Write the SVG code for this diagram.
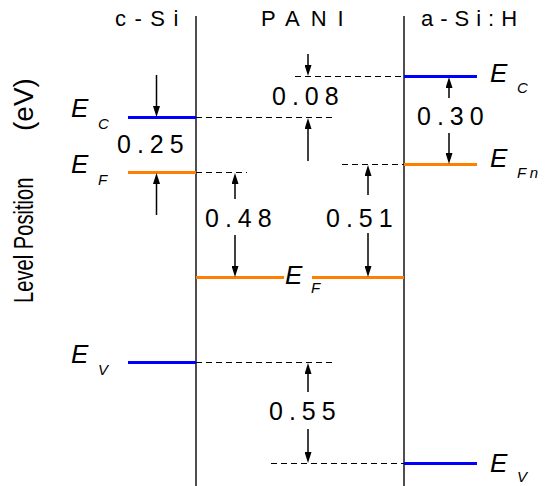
<svg xmlns="http://www.w3.org/2000/svg" width="548" height="486" viewBox="0 0 548 486">
<style>
  text { font-family: "Liberation Sans", Arial, sans-serif; fill: #000; }
  .title { font-size: 22px; }
  .num { font-size: 25px; letter-spacing: 6px; }
  .E { font-size: 26px; font-style: italic; }
  .sub { font-size: 15px; font-style: italic; }
  .wall { stroke: #222; stroke-width: 1.6; fill: none; }
  .dash { stroke: #000; stroke-width: 1.1; stroke-dasharray: 6 4; fill: none; }
  .blue { stroke: #0000ff; stroke-width: 3; fill: none; }
  .orange { stroke: #ff8000; stroke-width: 3; fill: none; }
  .arrow { stroke: #000; stroke-width: 1.5; fill: none; marker-end: url(#ah); }
</style>
<defs>
  <marker id="ah" viewBox="0 0 11 7" refX="7" refY="3.5" markerWidth="11" markerHeight="7" markerUnits="userSpaceOnUse" orient="auto">
    <path d="M0,0 L11,3.5 L0,7 z" fill="#000"/>
  </marker>
</defs>
<rect width="548" height="486" fill="#fff"/>

<g id="interfaces">
  <line class="wall" x1="196" y1="16" x2="196" y2="486"/>
  <line class="wall" x1="404" y1="16" x2="404" y2="486"/>
</g>

<g id="titles">
  <text class="title" x="115" y="26" letter-spacing="8.5">c-Si</text>
  <text class="title" x="261" y="26" letter-spacing="11">PANI</text>
  <text class="title" x="421" y="26" letter-spacing="7">a-Si:H</text>
</g>

<g id="axis-label">
  <text transform="translate(33,303) rotate(-90) scale(0.72,1)" font-size="28">Level Position</text>
  <text transform="translate(33,131) rotate(-90)" font-size="28">(eV)</text>
</g>

<g id="dashed-levels">
  <line class="dash" x1="196" y1="117.5" x2="336" y2="117.5"/>
  <line class="dash" x1="196" y1="172.5" x2="247" y2="172.5"/>
  <line class="dash" x1="295" y1="76.5" x2="404" y2="76.5"/>
  <line class="dash" x1="342" y1="164.5" x2="404" y2="164.5"/>
  <line class="dash" x1="196" y1="362.5" x2="332" y2="362.5"/>
  <line class="dash" x1="271" y1="463.5" x2="404" y2="463.5"/>
</g>

<g id="c-Si">
  <line class="blue" x1="128" y1="117.5" x2="196" y2="117.5"/>
  <line class="orange" x1="128" y1="172.5" x2="196" y2="172.5"/>
  <line class="blue" x1="128" y1="362.5" x2="196" y2="362.5"/>
  <text class="E" x="71" y="117">E</text><text class="sub" x="98" y="129">C</text>
  <text class="E" x="71" y="173">E</text><text class="sub" x="98" y="185">F</text>
  <text class="E" x="71" y="363">E</text><text class="sub" x="98" y="375">V</text>
</g>

<g id="PANI">
  <line class="orange" x1="196" y1="277.5" x2="284" y2="277.5"/>
  <line class="orange" x1="312" y1="277.5" x2="404" y2="277.5"/>
  <text class="E" x="285" y="284">E</text><text class="sub" x="311" y="293">F</text>
</g>

<g id="a-Si-H">
  <line class="blue" x1="404" y1="76.5" x2="477" y2="76.5"/>
  <line class="orange" x1="404" y1="164.5" x2="477" y2="164.5"/>
  <line class="blue" x1="404" y1="463.5" x2="477" y2="463.5"/>
  <text class="E" x="490" y="82">E</text><text class="sub" x="517" y="93">C</text>
  <text class="E" x="490" y="167">E</text><text class="sub" x="517" y="178" letter-spacing="3.5">Fn</text>
  <text class="E" x="490" y="472">E</text><text class="sub" x="517" y="482">V</text>
</g>

<g id="connectors">
  <path class="arrow" d="M156.5,75 V113"/>
  <path class="arrow" d="M156.5,215 V177"/>
  <path class="arrow" d="M235,199 V177"/>
  <path class="arrow" d="M235,235 V273"/>
  <path class="arrow" d="M308,54 V72"/>
  <path class="arrow" d="M308,161 V122"/>
  <path class="arrow" d="M368,195 V169"/>
  <path class="arrow" d="M368,233 V273"/>
  <path class="arrow" d="M449,98 V81"/>
  <path class="arrow" d="M449,133 V160"/>
  <path class="arrow" d="M308,392 V367"/>
  <path class="arrow" d="M308,429 V459"/>
</g>

<g id="values">
  <text class="num" x="117" y="153">0.25</text>
  <text class="num" x="272" y="105">0.08</text>
  <text class="num" x="205" y="227">0.48</text>
  <text class="num" x="326" y="227">0.51</text>
  <text class="num" x="417" y="125">0.30</text>
  <text class="num" x="269" y="420">0.55</text>
</g>
</svg>
